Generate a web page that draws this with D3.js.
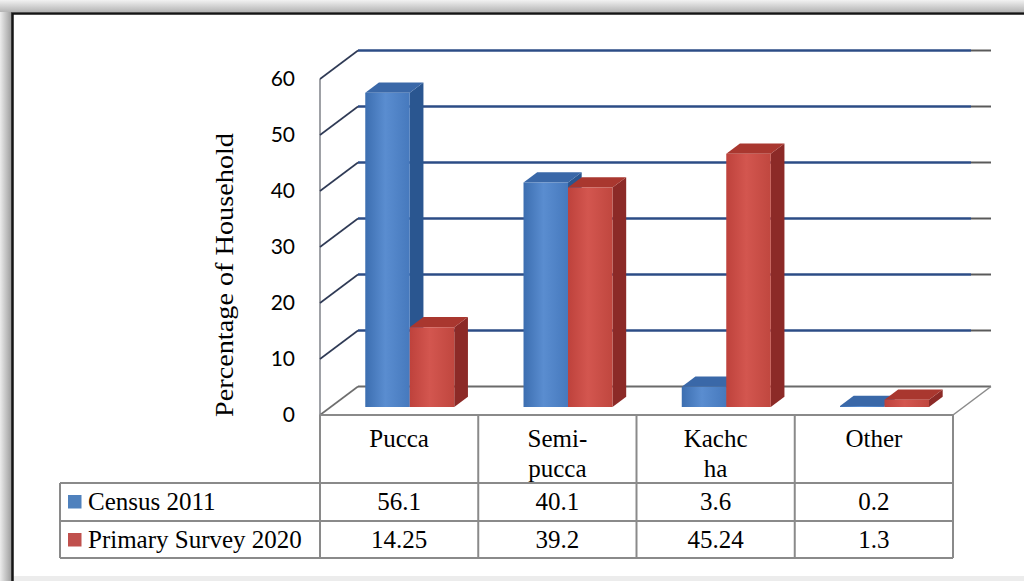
<!DOCTYPE html>
<html>
<head>
<meta charset="utf-8">
<script src="https://cdn.jsdelivr.net/npm/d3@7"></script>
<style>
  html, body { margin: 0; padding: 0; background: #ffffff; }
  svg { display: block; }
</style>
</head>
<body>
<svg id="chart" width="1024" height="581"></svg>
<script>
// ---------------- data ----------------
const categories = ["Pucca", "Semi-pucca", "Kachcha", "Other"];
const headerLines = [["Pucca"], ["Semi-", "pucca"], ["Kachc", "ha"], ["Other"]];
const seriesNames = ["Census 2011", "Primary Survey 2020"];
const census2011 = [56.1, 40.1, 3.6, 0.2];
const survey2020 = [14.25, 39.2, 45.24, 1.3];
const census2011Labels = ["56.1", "40.1", "3.6", "0.2"];
const survey2020Labels = ["14.25", "39.2", "45.24", "1.3"];
const yTicks = [0, 10, 20, 30, 40, 50, 60];
const yTitle = "Percentage of Household";

// ---------------- setup ----------------
const svg = d3.select("#chart");
const defs = svg.append("defs");

const W = 1024, H = 581;
const DX = 38, DY = 28.5;          // depth offset of the 3D box
const D0 = 0.28, D1 = 0.64;        // bar depth range (fraction of box depth)

const y = d3.scaleLinear().domain([0, 60]).range([415, 79]);
const x = d3.scaleBand().domain(categories).range([320, 953]).paddingInner(0).paddingOuter(0);
const x1 = d3.scaleBand().domain([0, 1]).range([-44.5, 44.5]);
const proj = (xf, v, d) => [xf + d * DX, y(v) - d * DY];

const seriesData = [census2011, survey2020];
const palettes = [
  { front: ["#3C6EB0", "#5A8DD0", "#4679BD"], side: "#2A5690", top: "#3A68A8", swatch: "#4F81BD" },
  { front: ["#BE423C", "#D3564F", "#C0473F"], side: "#8C2A27", top: "#A9372F", swatch: "#C0504D" }
];

// gradients
palettes.forEach((p, i) => {
  const g = defs.append("linearGradient").attr("id", "front" + i)
    .attr("x1", "0%").attr("x2", "100%").attr("y1", "0%").attr("y2", "0%");
  g.append("stop").attr("offset", "0%").attr("stop-color", p.front[0]);
  g.append("stop").attr("offset", "45%").attr("stop-color", p.front[1]);
  g.append("stop").attr("offset", "100%").attr("stop-color", p.front[2]);
});
const shL = defs.append("linearGradient").attr("id", "shadowL")
  .attr("x1", "0%").attr("x2", "100%").attr("y1", "0%").attr("y2", "0%");
shL.append("stop").attr("offset", "0%").attr("stop-color", "#ececec");
shL.append("stop").attr("offset", "100%").attr("stop-color", "#9a9a9a");
const shT = defs.append("linearGradient").attr("id", "shadowT")
  .attr("x1", "0%").attr("x2", "0%").attr("y1", "0%").attr("y2", "100%");
shT.append("stop").attr("offset", "0%").attr("stop-color", "#f2f2f2");
shT.append("stop").attr("offset", "100%").attr("stop-color", "#b4b4b4");

// ---------------- frame ----------------
svg.append("rect").attr("x", 0).attr("y", 0).attr("width", W).attr("height", H).attr("fill", "#ffffff");
svg.append("rect").attr("x", 0).attr("y", 0).attr("width", 12).attr("height", H).attr("fill", "url(#shadowL)");
svg.append("rect").attr("x", 0).attr("y", 0).attr("width", W).attr("height", 12).attr("fill", "url(#shadowT)");
svg.append("rect").attr("x", 13).attr("y", 576).attr("width", W - 13).attr("height", 5).attr("fill", "#ececec");
svg.append("path").attr("d", `M12.5,${H} L12.5,13.5 L${W},13.5`)
  .attr("fill", "none").attr("stroke", "#151515").attr("stroke-width", 2.5);

// ---------------- walls & gridlines ----------------
const grid = svg.append("g");
const xL = x.range()[0], xR = x.range()[1];
// left wall front edge
grid.append("line").attr("x1", xL).attr("x2", xL).attr("y1", y(60)).attr("y2", y(0))
  .attr("stroke", "#7f8288").attr("stroke-width", 1.5);
yTicks.forEach(v => {
  const a = proj(xL, v, 0), b = proj(xL, v, 1), c = proj(xR, v, 1);
  const isZero = v === 0;
  grid.append("line").attr("x1", a[0]).attr("y1", a[1]).attr("x2", b[0]).attr("y2", b[1])
    .attr("stroke", isZero ? "#6e6e6e" : "#2f3a55").attr("stroke-width", 1.6);
  if (isZero) {
    grid.append("line").attr("x1", b[0]).attr("y1", b[1]).attr("x2", c[0]).attr("y2", c[1])
      .attr("stroke", "#6a6a6a").attr("stroke-width", 2);
  } else {
    grid.append("line").attr("x1", b[0]).attr("y1", b[1]).attr("x2", c[0] - 20).attr("y2", c[1])
      .attr("stroke", "#2C4C86").attr("stroke-width", 2.4);
    grid.append("line").attr("x1", c[0] - 20).attr("y1", c[1]).attr("x2", c[0]).attr("y2", c[1])
      .attr("stroke", "#5a5a5a").attr("stroke-width", 2);
  }
});
// floor right edge
{
  const a = proj(xR, 0, 0), b = proj(xR, 0, 1);
  grid.append("line").attr("x1", a[0]).attr("y1", a[1]).attr("x2", b[0]).attr("y2", b[1])
    .attr("stroke", "#8a8a8a").attr("stroke-width", 1.5);
}

// ---------------- bars ----------------
const barsG = svg.append("g");
categories.forEach((cat, ci) => {
  const cx = x(cat) + x.bandwidth() / 2;
  seriesData.forEach((vals, si) => {
    const v = vals[ci];
    const p = palettes[si];
    const xl = cx + x1(si), xr = xl + x1.bandwidth();
    const pts = (arr) => arr.map(q => q.join(",")).join(" ");
    // front face
    const f = [proj(xl, v, D0), proj(xr, v, D0), proj(xr, 0, D0), proj(xl, 0, D0)];
    // side face
    const s = [proj(xr, v, D0), proj(xr, v, D1), proj(xr, 0, D1), proj(xr, 0, D0)];
    // top face
    const t = [proj(xl, v, D0), proj(xl, v, D1), proj(xr, v, D1), proj(xr, v, D0)];
    const g = barsG.append("g");
    g.append("polygon").attr("points", pts(s)).attr("fill", p.side);
    g.append("polygon").attr("points", pts(t)).attr("fill", p.top);
    g.append("polygon").attr("points", pts(f)).attr("fill", `url(#front${si})`);
  });
});

// ---------------- y axis ----------------
const yAxis = d3.axisLeft(y).tickValues(yTicks).tickSize(0).tickPadding(25).tickFormat(d3.format("d"));
const ax = svg.append("g").attr("transform", `translate(${xL},0)`).call(yAxis);
ax.select(".domain").remove();
ax.selectAll("text").attr("font-family", "Lato, 'Open Sans', sans-serif").attr("font-size", 21)
  .attr("fill", "#000");

svg.append("text")
  .attr("transform", "translate(233,275) rotate(-90)")
  .attr("text-anchor", "middle")
  .attr("font-family", "'Liberation Serif', 'Times New Roman', serif")
  .attr("font-size", 25)
  .attr("textLength", 284).attr("lengthAdjust", "spacingAndGlyphs")
  .attr("fill", "#000")
  .text(yTitle);

// ---------------- data table ----------------
const tbl = svg.append("g");
const serif = "'Liberation Serif', 'Times New Roman', serif";
const rowY = [415, 483, 521, 558];
const legendX = 60;
const border = "#8a8a8a";
// horizontal lines
tbl.append("line").attr("x1", xL).attr("x2", xR).attr("y1", rowY[0]).attr("y2", rowY[0])
  .attr("stroke", border).attr("stroke-width", 2);
[rowY[1], rowY[2], rowY[3]].forEach(yy => {
  tbl.append("line").attr("x1", legendX).attr("x2", xR).attr("y1", yy).attr("y2", yy)
    .attr("stroke", border).attr("stroke-width", 2);
});
// vertical lines
tbl.append("line").attr("x1", legendX).attr("x2", legendX).attr("y1", rowY[1]).attr("y2", rowY[3])
  .attr("stroke", border).attr("stroke-width", 2);
categories.forEach(cat => {
  tbl.append("line").attr("x1", x(cat)).attr("x2", x(cat)).attr("y1", rowY[0]).attr("y2", rowY[3])
    .attr("stroke", border).attr("stroke-width", 2);
});
tbl.append("line").attr("x1", xR).attr("x2", xR).attr("y1", rowY[0]).attr("y2", rowY[3])
  .attr("stroke", border).attr("stroke-width", 2);

// header labels
categories.forEach((cat, ci) => {
  const cx = x(cat) + x.bandwidth() / 2;
  headerLines[ci].forEach((line, li) => {
    tbl.append("text").attr("x", cx).attr("y", 447 + li * 30)
      .attr("text-anchor", "middle").attr("font-family", serif).attr("font-size", 25)
      .attr("fill", "#000").text(line);
  });
});
// value rows
const rowLabels = [census2011Labels, survey2020Labels];
const rowBase = [510, 548];
rowLabels.forEach((labels, si) => {
  tbl.append("rect").attr("x", 68).attr("y", rowBase[si] - 15).attr("width", 13.5).attr("height", 13.5)
    .attr("fill", palettes[si].swatch);
  tbl.append("text").attr("x", 88).attr("y", rowBase[si])
    .attr("font-family", serif).attr("font-size", 25).attr("fill", "#000").text(seriesNames[si]);
  categories.forEach((cat, ci) => {
    tbl.append("text").attr("x", x(cat) + x.bandwidth() / 2).attr("y", rowBase[si])
      .attr("text-anchor", "middle").attr("font-family", serif).attr("font-size", 25)
      .attr("fill", "#000").text(labels[ci]);
  });
});
</script>
</body>
</html>
